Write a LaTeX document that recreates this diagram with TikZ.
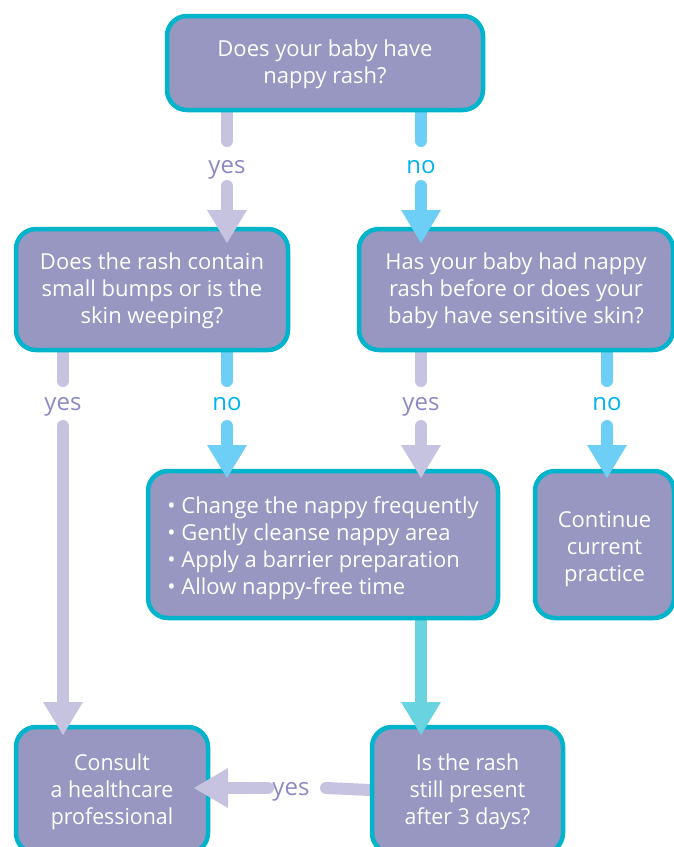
\documentclass[tikz,border=0pt]{standalone}
\usepackage{fontspec}
\setmainfont{Open Sans}
\newfontfamily\condfont[FakeStretch=0.97]{Open Sans}
\usetikzlibrary{backgrounds}
\definecolor{boxfill}{HTML}{9797C1}
\definecolor{boxline}{HTML}{00B4CB}
\definecolor{lav}{HTML}{C6C3E1}
\definecolor{sky}{HTML}{6ECFF6}
\definecolor{teal}{HTML}{6AD3E0}
\definecolor{yestext}{HTML}{8C89C3}
\definecolor{notext}{HTML}{00B2EE}
\newcommand\headdown[3]{\fill[#3] (#1-20,#2) -- (#1+20,#2) -- (#1,#2+33) -- cycle;}
\newcommand\lift[1]{\rule{0pt}{#1pt}}
\begin{document}
\begin{tikzpicture}[x=1pt,y=-1pt,
  box/.style={draw=boxline, fill=boxfill, line width=4.5pt, rounded corners=20pt,
    text=white, align=center, font=\fontsize{22}{27}\selectfont, inner sep=0pt},
  lbl/.style={font=\fontsize{24}{28}\selectfont, inner sep=0pt, anchor=base},
  yeslbl/.style={lbl, text=yestext},
  nolbl/.style={lbl, text=notext},
  shaft/.style={line width=12pt, line cap=round},
]
\useasboundingbox (0,0) rectangle (673,847);

% boxes
\node[box, minimum width=316pt, minimum height=94pt] (top) at (325,63)
  {\lift{20}Does your baby have\\nappy rash?};
\node[box, minimum width=272pt, minimum height=121pt] (q1) at (152,289.5)
  {\lift{20}Does the rash contain\\small bumps or is the\\skin weeping?};
\node[box, minimum width=314pt, minimum height=121pt] (q2) at (516,289.5)
  {\lift{20}Has your baby had nappy\\rash before or does your\\baby have sensitive skin?};
\node[box, minimum width=350pt, minimum height=147pt, align=left] (act) at (323,544.5)
  {\lift{24}\textbullet\ Change the nappy frequently\\\textbullet\ Gently cleanse nappy area\\\textbullet\ Apply a barrier preparation\\\textbullet\ Allow nappy-free time};
\node[box, minimum width=139pt, minimum height=147pt] (cont) at (604.5,544.5)
  {\lift{26}Continue\\current\\practice};
\node[box, minimum width=192pt, minimum height=126pt, font=\condfont\fontsize{22}{27}\selectfont] (cons) at (112,790)
  {\lift{20}Consult\\a healthcare\\professional};
\node[box, minimum width=191pt, minimum height=126pt, font=\condfont\fontsize{22}{27}\selectfont] (still) at (467.5,790)
  {\lift{20}Is the rash\\still present\\after 3 days?};

% labels
\node[yeslbl] (l1) at (227,173) {yes};
\node[nolbl]  (l2) at (421,173) {no};
\node[yeslbl] (l3) at (63,410) {yes};
\node[nolbl]  (l4) at (227,410) {no};
\node[yeslbl] (l5) at (421,410) {yes};
\node[nolbl]  (l6) at (607,410) {no};
\node[yeslbl] (l7) at (291,795) {yes};

% shafts
\begin{pgfonlayer}{background}
\draw[shaft, lav] (top.south -| l1) -- (227,141);
\draw[shaft, lav] (227,186) -- (227,212);
\draw[shaft, sky] (top.south -| l2) -- (421,141);
\draw[shaft, sky] (421,186) -- (421,212);
\draw[shaft, lav] (q1.south -| l3) -- (63,381);
\draw[shaft, lav] (63,426) -- (63,702);
\draw[shaft, sky] (q1.south -| l4) -- (227,381);
\draw[shaft, sky] (227,426) -- (227,447);
\draw[shaft, lav] (q2.south -| l5) -- (421,381);
\draw[shaft, lav] (421,426) -- (421,447);
\draw[shaft, sky] (q2.south -| l6) -- (607,381);
\draw[shaft, sky] (607,426) -- (607,447);
\draw[shaft, teal] (act.south -| l5) -- (421,702);
\draw[shaft, lav] (still.west) -- (326,788);
\draw[shaft, lav] (268,788) -- (228,788);
\end{pgfonlayer}

% heads
\headdown{227}{210}{lav}
\headdown{421}{210}{sky}
\headdown{63}{702}{lav}
\headdown{227}{445}{sky}
\headdown{421}{445}{lav}
\headdown{607}{445}{sky}
\headdown{421}{702}{teal}
\fill[lav] (228,768) -- (228,808) -- (194,788) -- cycle;
\end{tikzpicture}
\end{document}
